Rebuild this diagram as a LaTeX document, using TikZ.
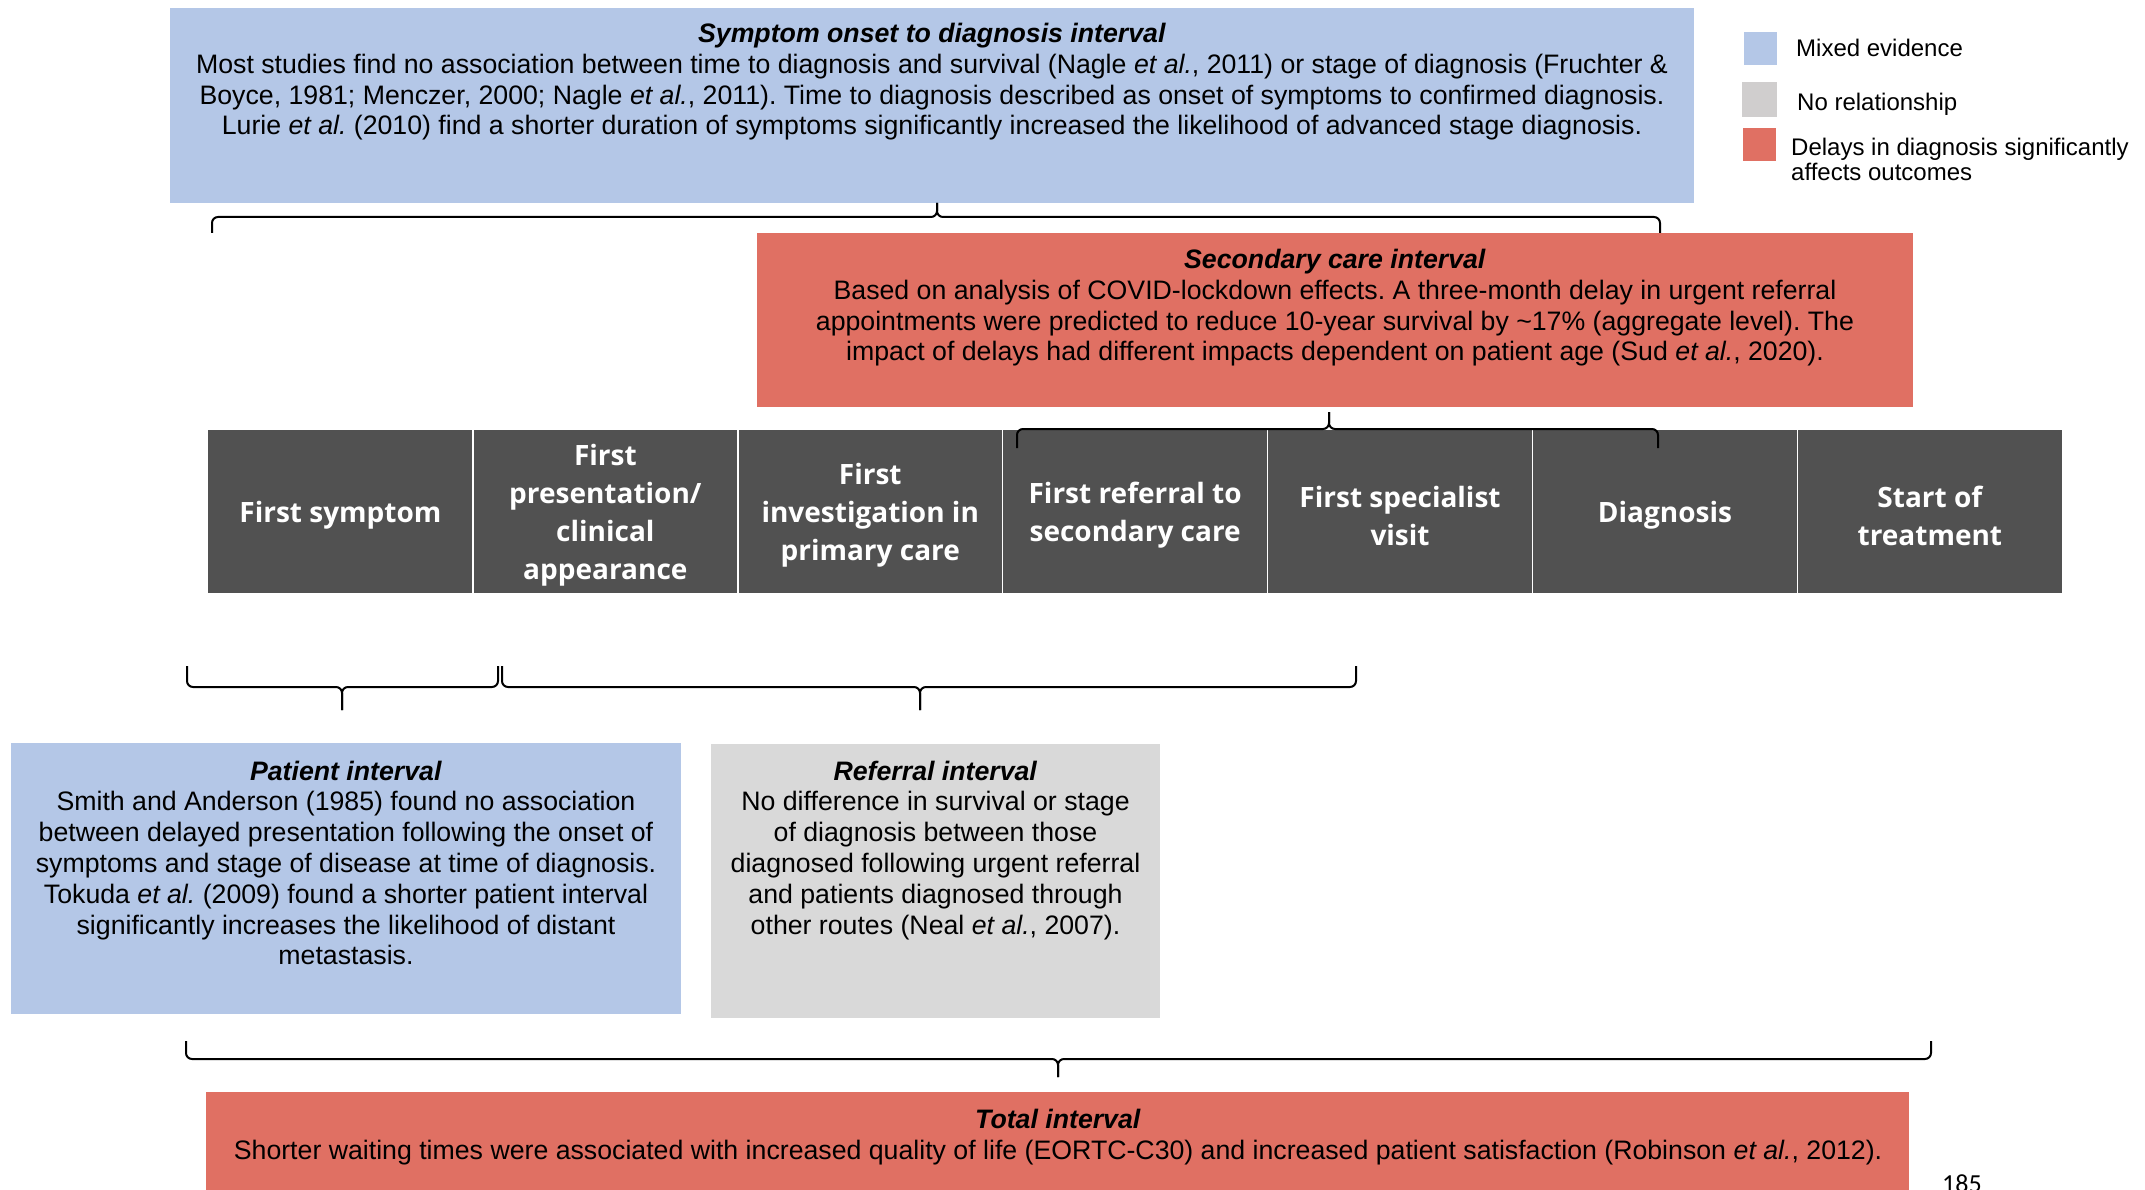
\documentclass[tikz,border=0pt]{standalone}
\usepackage{fontspec}
\setmainfont{Liberation Sans}
\newfontfamily\cellfont{Open Sans}
\newfontfamily\pagefont{Carlito}
\definecolor{mixblue}{RGB}{180,199,231}
\definecolor{sigred}{RGB}{224,112,99}
\definecolor{norel}{RGB}{217,217,217}
\definecolor{leggray}{RGB}{208,206,206}
\definecolor{darkcell}{RGB}{81,81,81}
\frenchspacing
\tikzset{
  boxshape/.style={inner sep=0pt, outer sep=0pt, anchor=north west},
  bodytext/.style={align=center, inner sep=0pt, anchor=north, font=\fontsize{26.7}{30.8}\selectfont},
  celltext/.style={align=center, text=white, inner sep=0pt, font=\cellfont\bfseries\fontsize{28}{38}\selectfont},
  legtext/.style={inner sep=0pt, align=left, font=\fontsize{24}{25}\selectfont},
  bracestyle/.style={line width=2pt, rounded corners=6pt},
  cellbox/.style={fill=darkcell, minimum width=264.9pt, minimum height=163pt, inner sep=0pt, outer sep=0pt, anchor=north west},
  sepline/.style={white, line width=1.5pt},
}
\begin{document}
\begin{tikzpicture}[x=1pt,y=-1pt]
\useasboundingbox (0,0) rectangle (2145,1190);
\clip (0,0) rectangle (2145,1190);
\fill[white] (0,0) rectangle (2145,1190);

% ---------- top box ----------
\node[boxshape, fill=mixblue, minimum width=1524pt, minimum height=195pt] (onset) at (170,8) {};
\node[bodytext] (onsettxt) at (932,23) {\textbf{\textit{Symptom onset to diagnosis interval}}\\
Most studies find no association between time to diagnosis and survival (Nagle \textit{et al.}, 2011) or stage of diagnosis (Fruchter \&\\
Boyce, 1981; Menczer, 2000; Nagle \textit{et al.}, 2011). Time to diagnosis described as onset of symptoms to confirmed diagnosis.\\
Lurie \textit{et al.} (2010) find a shorter duration of symptoms significantly increased the likelihood of advanced stage diagnosis.};

% ---------- legend ----------
\node[boxshape, fill=mixblue, minimum width=33pt, minimum height=33pt] (legblue) at (1744,32) {};
\node[boxshape, fill=leggray, minimum width=35pt, minimum height=35pt] (leggray) at (1742,82) {};
\node[boxshape, fill=sigred, minimum width=33pt, minimum height=33pt] (legred) at (1743,128) {};
\node[legtext, anchor=base west] (legbluetxt) at (1796,57) {Mixed evidence};
\node[legtext, anchor=base west] (leggraytxt) at (1797,111) {No relationship};
\node[legtext, anchor=north west] (legredtxt) at (1791,137.8) {Delays in diagnosis significantly\\affects outcomes};

% ---------- secondary care box ----------
\node[boxshape, fill=sigred, minimum width=1156pt, minimum height=174pt] (secondary) at (757,233) {};
\node[bodytext] (secondarytxt) at (1335,249) {\textbf{\textit{Secondary care interval}}\\
Based on analysis of COVID-lockdown effects. A three-month delay in urgent referral\\
appointments were predicted to reduce 10-year survival by \textasciitilde17\% (aggregate level). The\\
impact of delays had different impacts dependent on patient age (Sud \textit{et al.}, 2020).};

% ---------- timeline row ----------
\node[cellbox] (c1) at (208,430) {};
\node[cellbox] (c2) at (472.9,430) {};
\node[cellbox] (c3) at (737.8,430) {};
\node[cellbox] (c4) at (1002.7,430) {};
\node[cellbox] (c5) at (1267.6,430) {};
\node[cellbox] (c6) at (1532.5,430) {};
\node[cellbox] (c7) at (1797.4,430) {};
\foreach \a/\b in {c1/c2,c2/c3,c3/c4,c4/c5,c5/c6,c6/c7}
  \draw[sepline] (\a.north east) -- (\a.south east);
\node[celltext] (t1) at ([yshift=-4pt]c1.center) {First symptom};
\node[celltext] (t2) at ([yshift=-4pt]c2.center) {First\\presentation/\\clinical\\appearance};
\node[celltext] (t3) at ([yshift=-4pt]c3.center) {First\\investigation in\\primary care};
\node[celltext] (t4) at ([yshift=-4pt]c4.center) {First referral to\\secondary care};
\node[celltext] (t5) at ([yshift=-4pt]c5.center) {First specialist\\visit};
\node[celltext] (t6) at ([yshift=-4pt]c6.center) {Diagnosis};
\node[celltext] (t7) at ([yshift=-4pt]c7.center) {Start of\\treatment};

% ---------- braces ----------
% top (onset) brace, tip up
\draw[bracestyle] (212,233) -- (212,217) -- (937,217) -- (937,203);
\draw[bracestyle] (1660,233) -- (1660,217) -- (937,217) -- (937,203);
% secondary brace, tip up
\draw[bracestyle] (1017,448) -- (1017,429) -- (1329,429) -- (1329,412);
\draw[bracestyle] (1658,448) -- (1658,429) -- (1329,429) -- (1329,412);
% patient brace, tip down
\draw[bracestyle] (187,666) -- (187,687) -- (342,687) -- (342,710);
\draw[bracestyle] (498,666) -- (498,687) -- (342,687) -- (342,710);
% referral brace, tip down
\draw[bracestyle] (502,666) -- (502,687) -- (920,687) -- (920,710);
\draw[bracestyle] (1356,666) -- (1356,687) -- (920,687) -- (920,710);
% total brace, tip down
\draw[bracestyle] (186,1041) -- (186,1059) -- (1058,1059) -- (1058,1077);
\draw[bracestyle] (1931,1041) -- (1931,1059) -- (1058,1059) -- (1058,1077);

% ---------- patient interval ----------
\node[boxshape, fill=mixblue, minimum width=670pt, minimum height=271pt] (patient) at (11,743) {};
\node[bodytext] (patienttxt) at (346,760.5) {\textbf{\textit{Patient interval}}\\
Smith and Anderson (1985) found no association\\
between delayed presentation following the onset of\\
symptoms and stage of disease at time of diagnosis.\\
Tokuda \textit{et al.} (2009) found a shorter patient interval\\
significantly increases the likelihood of distant\\
metastasis.};

% ---------- referral interval ----------
\node[boxshape, fill=norel, minimum width=449pt, minimum height=274pt] (referral) at (711,744) {};
\node[bodytext] (referraltxt) at (935.5,760.5) {\textbf{\textit{Referral interval}}\\
No difference in survival or stage\\
of diagnosis between those\\
diagnosed following urgent referral\\
and patients diagnosed through\\
other routes (Neal \textit{et al.}, 2007).};

% ---------- total interval ----------
\node[boxshape, fill=sigred, minimum width=1703pt, minimum height=110pt] (total) at (206,1092) {};
\node[bodytext] (totaltxt) at (1058,1109) {\textbf{\textit{Total interval}}\\
Shorter waiting times were associated with increased quality of life (EORTC-C30) and increased patient satisfaction (Robinson \textit{et al.}, 2012).};

% ---------- page number ----------
\node[inner sep=0pt, anchor=base west, font=\pagefont\fontsize{26}{28}\selectfont] (pagenum) at (1942,1192) {185};
\end{tikzpicture}
\end{document}
